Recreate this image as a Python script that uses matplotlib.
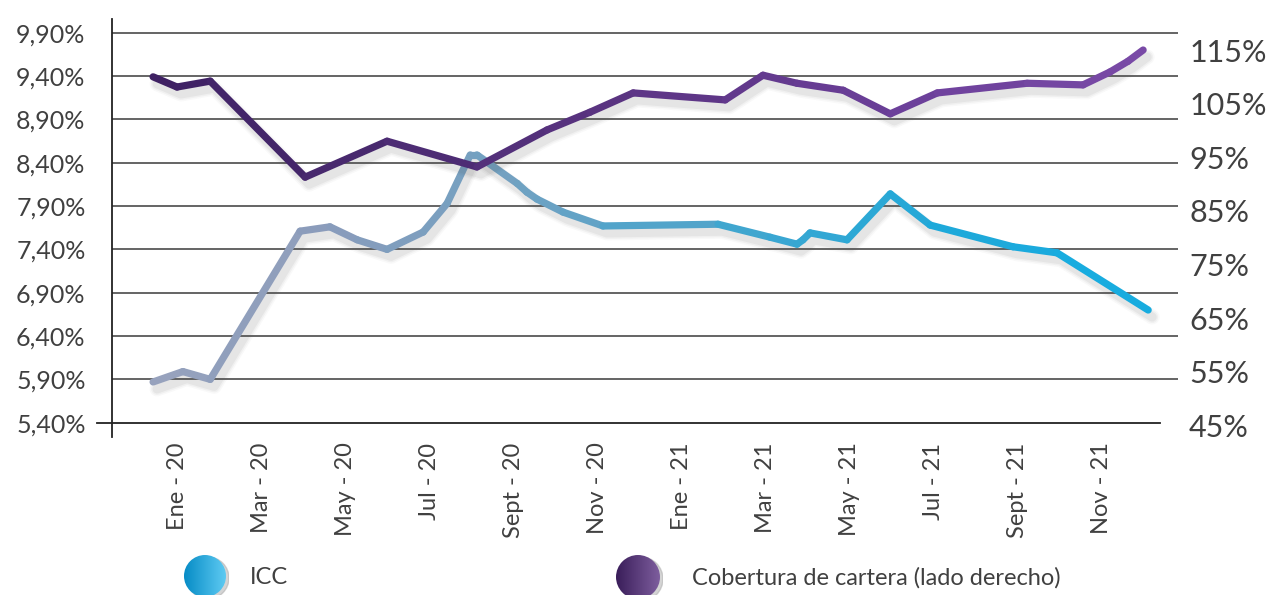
import numpy as np
import matplotlib
matplotlib.use("Agg")
import matplotlib.pyplot as plt
from matplotlib.collections import LineCollection
from matplotlib.colors import LinearSegmentedColormap
from matplotlib.patches import Circle
import matplotlib.transforms as mtransforms

plt.rcParams['font.family'] = ['Lato', 'DejaVu Sans']

# datos (mes 0 = Ene-20)
etiquetas = ['Ene - 20', 'Mar - 20', 'May - 20', 'Jul - 20', 'Sept - 20', 'Nov - 20',
             'Ene - 21', 'Mar - 21', 'May - 21', 'Jul - 21', 'Sept - 21', 'Nov - 21']
pos_etiquetas = [0, 2, 4, 6, 8, 10, 12, 14, 16, 18, 20, 22]

mes_icc = [-0.57, 0.14, 0.79, 2.93, 3.64, 4.29, 5.0, 5.86, 6.43, 6.98, 7.14, 8.10, 8.33,
           8.57, 9.19, 10.14, 12.88, 14.12, 14.76, 14.90, 15.07, 15.95, 16.98, 17.93,
           19.90, 20.95, 23.12]
icc = [5.87, 5.99, 5.90, 7.61, 7.66, 7.51, 7.40, 7.60, 7.93, 8.49, 8.49, 8.16, 8.06,
       7.98, 7.83, 7.67, 7.69, 7.54, 7.46, 7.51, 7.59, 7.51, 8.04, 7.68,
       7.43, 7.36, 6.70]

mes_cob = [-0.57, 0.0, 0.79, 3.05, 5.0, 7.14, 8.81, 9.83, 10.86, 13.05, 13.95, 14.76,
           15.86, 16.98, 18.10, 20.24, 21.57, 22.21, 22.64, 23.0]
cobertura = [110.0, 108.1, 109.2, 91.3, 98.0, 93.2, 100.1, 103.4, 107.0, 105.7, 110.3, 108.8,
             107.5, 103.1, 107.0, 108.8, 108.5, 110.9, 112.9, 115.0]

ticks_izq = [5.40, 5.90, 6.40, 6.90, 7.40, 7.90, 8.40, 8.90, 9.40, 9.90]
ticks_der = [45, 55, 65, 75, 85, 95, 105, 115]

W, H = 1269, 595
fig = plt.figure(figsize=(W / 100, H / 100), dpi=100)
ax = fig.add_axes([112 / W, 1 - 437 / H, 1066 / W, 418 / H])
ax2 = ax.twinx()

xmin, xmax = -1.548, 23.83
ax.set_xlim(xmin, xmax)
ax.set_ylim(5.235, 10.058)
ax2.set_ylim(42.86, 120.78)

txt = '#404040'

# lineas horizontales
for v in ticks_izq[1:]:
    ax.axhline(v, xmin=0, xmax=1, color='#4a4a4a', lw=1.2, zorder=1)
ax.plot([-15 / 1066, 1048 / 1066], [5.40, 5.40], color='#222222', lw=1.3,
        transform=ax.get_yaxis_transform(), clip_on=False, zorder=1)

for s in ['top', 'right', 'bottom']:
    ax.spines[s].set_visible(False)
    ax2.spines[s].set_visible(False)
ax2.spines['left'].set_visible(False)
ax.spines['left'].set_color('#222222')
ax.spines['left'].set_linewidth(1.3)

ax.set_yticks(ticks_izq)
ax.set_yticklabels([('%.2f%%' % v).replace('.', ',') for v in ticks_izq])
ax.tick_params(axis='y', length=0, pad=19, labelsize=18, labelcolor=txt)
ax2.set_yticks(ticks_der)
ax2.set_yticklabels(['%d%%' % v for v in ticks_der])
ax2.tick_params(axis='y', length=0, pad=8, labelsize=22, labelcolor=txt)

ax.set_xticks(pos_etiquetas)
ax.set_xticklabels(etiquetas, rotation=90, ha='center', va='top')
ax.tick_params(axis='x', length=0, pad=4, labelsize=17, labelcolor=txt)

cmap_icc = LinearSegmentedColormap.from_list('icc', ['#9ba4be', '#8a9cbb', '#6da2c3', '#3ea6d0',
                                                     '#1ea9da', '#14ade2'])
cmap_cob = LinearSegmentedColormap.from_list('cob', ['#3c1f60', '#4a2a70', '#5c3584',
                                                     '#6c409a', '#7b4ca8'])


def linea(eje, x, y, cmap, z):
    x = np.array(x)
    y = np.array(y)
    # sombra
    for lw, a in [(15, 0.035), (12, 0.05), (9, 0.07)]:
        off = mtransforms.offset_copy(eje.transData, fig=fig, x=4, y=-7, units='dots')
        eje.plot(x, y, color='#555555', lw=lw * 0.72, alpha=a, transform=off,
                 solid_capstyle='round', solid_joinstyle='round', zorder=z - 1)
    pts = np.column_stack([x, y]).reshape(-1, 1, 2)
    segs = np.concatenate([pts[:-1], pts[1:]], axis=1)
    t = ((x[:-1] + x[1:]) / 2 - xmin) / (xmax - xmin)
    lc = LineCollection(segs, colors=cmap(t), linewidths=5.2, capstyle='round',
                        joinstyle='round', zorder=z)
    eje.add_collection(lc)


linea(ax, mes_icc, icc, cmap_icc, 4)
linea(ax2, mes_cob, cobertura, cmap_cob, 4)

# leyenda
def bolita(cx, cy, r, c1, c2):
    sa = fig.add_axes([(cx - r + 3) / W, (H - cy - r - 2) / H, 2 * r / W, 2 * r / H])
    sa.add_patch(Circle((0.5, 0.5), 0.5, color='#aaaaaa', alpha=0.5))
    sa.set_xlim(0, 1)
    sa.set_ylim(0, 1)
    sa.axis('off')
    la = fig.add_axes([(cx - r) / W, (H - cy - r) / H, 2 * r / W, 2 * r / H])
    grad = LinearSegmentedColormap.from_list('g', [c1, c2])
    im = la.imshow(np.linspace(0, 1, 50).reshape(1, -1), cmap=grad, extent=[0, 1, 0, 1],
                   aspect='auto')
    im.set_clip_path(Circle((0.5, 0.5), 0.5, transform=la.transData))
    la.set_xlim(0, 1)
    la.set_ylim(0, 1)
    la.axis('off')


bolita(205, 576, 21, '#078cc6', '#5dcaf2')
bolita(638, 577, 22, '#3a1e5a', '#7d5d9d')
fig.text(250 / W, 1 - 578 / H, 'ICC', fontsize=17, color=txt, va='center')
fig.text(692 / W, 1 - 578 / H, 'Cobertura de cartera (lado derecho)', fontsize=17,
         color=txt, va='center')

fig.savefig('out.png', dpi=100)
